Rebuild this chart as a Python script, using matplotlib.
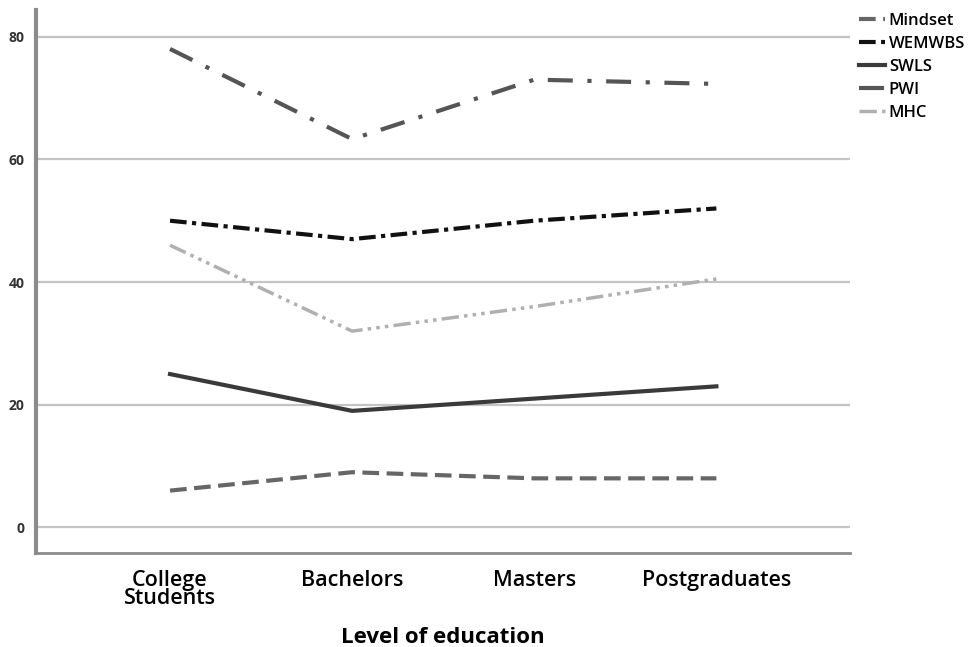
import matplotlib
matplotlib.use("Agg")
import matplotlib.pyplot as plt
import numpy as np

plt.rcParams["font.family"] = ["Open Sans", "DejaVu Sans"]

# education levels on the x axis
levels = ["College\nStudents", "Bachelors", "Masters", "Postgraduates"]

# mean scores
mindset = [6, 9, 8, 8]
wemwbs = [50, 47, 50, 52]
swls = [25, 19, 21, 23]
pwi = [78, 63.3, 73, 72.3]
mhc = [46, 32, 36, 40.5]

x = np.arange(len(levels))

fig = plt.figure(figsize=(9.73, 6.47), dpi=100)
ax = fig.add_axes([0.037, 0.145, 0.837, 0.84])

# grid first so lines sit on top
ax.set_yticks([0, 20, 40, 60, 80])
ax.yaxis.grid(True, color="#c4c4c4", linewidth=1.6)
ax.set_axisbelow(True)

ax.plot(x, mindset, color="#666666", lw=3, dashes=(4, 1.8), label="Mindset")
ax.plot(x, wemwbs, color="#111111", lw=3, dashes=(4, 1.3, 1, 1.3), label="WEMWBS")
ax.plot(x, swls, color="#3a3a3a", lw=3, label="SWLS")
ax.plot(x, pwi, color="#555555", lw=3, dashes=(6, 3.5, 1, 3.5), label="PWI")
ax.plot(x, mhc, color="#b0b0b0", lw=2.5, dashes=(5, 1.5, 1, 1.5, 1, 1.5, 1, 1.5), label="MHC")

ax.set_xlim(-0.736, 3.736)
ax.set_ylim(-4.2, 84.4)
ax.set_xticks(x)
ax.set_xticklabels(levels, fontsize=15.5, linespacing=0.8, fontweight="semibold")
ax.tick_params(axis="x", length=0, pad=12)
ax.tick_params(axis="y", length=0, pad=8, labelsize=10)
for t in ax.get_yticklabels():
    t.set_fontweight("bold")
    t.set_color("#333333")

ax.set_xlabel("Level of education", fontsize=16, fontweight="bold", labelpad=13)

for s in ["top", "right"]:
    ax.spines[s].set_visible(False)
ax.spines["left"].set_color("#8c8c8c")
ax.spines["left"].set_linewidth(3)
ax.spines["bottom"].set_color("#8c8c8c")
ax.spines["bottom"].set_linewidth(2)

leg = ax.legend(loc="upper left", bbox_to_anchor=(0.998, 1.012), frameon=False,
                fontsize=12, handlelength=1.6, handletextpad=0.2,
                labelspacing=0.42, borderaxespad=0.2)
for t in leg.get_texts():
    t.set_fontweight("semibold")

fig.savefig("out.png", dpi=100)
